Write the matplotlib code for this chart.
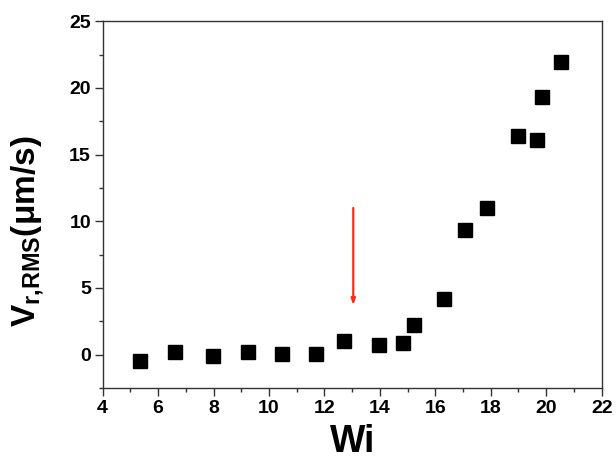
import matplotlib
matplotlib.use("Agg")
import matplotlib.pyplot as plt
from matplotlib.ticker import MultipleLocator

# data
wi = [5.36, 6.61, 7.98, 9.24, 10.46, 11.71, 12.70, 13.95, 14.82,
      15.24, 16.32, 17.08, 17.86, 19.00, 19.68, 19.86, 20.54]
v_rms = [-0.50, 0.17, -0.08, 0.17, 0.05, 0.02, 1.05, 0.72, 0.87,
         2.20, 4.20, 9.38, 11.00, 16.39, 16.09, 19.29, 21.97]

arrow_x = 13.04
arrow_top = 11.0
arrow_tip = 3.7

plt.rcParams["font.family"] = ["Liberation Sans", "DejaVu Sans"]
plt.rcParams["font.weight"] = "bold"
plt.rcParams["mathtext.fontset"] = "custom"
plt.rcParams["mathtext.bf"] = "Liberation Sans:bold"
plt.rcParams["mathtext.rm"] = "Liberation Sans:bold"

fig = plt.figure(figsize=(6.16, 4.59), dpi=100)
ax = fig.add_axes([0.1667, 0.1547, 0.81, 0.799])

ax.plot(wi, v_rms, linestyle="none", marker="s", markersize=9.8,
        color="black", markeredgecolor="black")

# red arrow marking the transition
ax.annotate("", xy=(arrow_x, arrow_tip), xytext=(arrow_x, arrow_top),
            arrowprops=dict(arrowstyle="-|>,head_length=0.35,head_width=0.12",
                            color="#ff2a1a", lw=1.6, shrinkA=0, shrinkB=0))

ax.set_xlim(4, 22)
ax.set_ylim(-2.5, 25)
ax.xaxis.set_major_locator(MultipleLocator(2))
ax.xaxis.set_minor_locator(MultipleLocator(1))
ax.yaxis.set_major_locator(MultipleLocator(5))
ax.yaxis.set_minor_locator(MultipleLocator(2.5))

for s in ax.spines.values():
    s.set_linewidth(1.0)
    s.set_color("#333333")

ax.tick_params(which="major", direction="out", length=5.5, width=1.0,
               color="#333333", labelsize=14, pad=3)
ax.tick_params(which="minor", direction="out", length=2.8, width=1.0,
               color="#333333")

ax.set_xlabel("Wi", fontsize=27, fontweight="bold", labelpad=5)
fig.text(0.045, 0.497, r"$\mathbf{V_{r{,}RMS}(μm/s)}$", rotation=90,
         fontsize=24, ha="center", va="center")

fig.savefig("out.png", dpi=100)
